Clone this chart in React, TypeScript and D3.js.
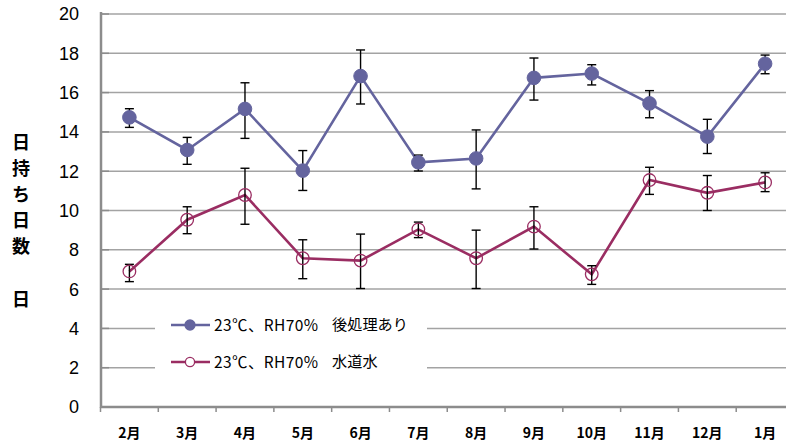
import React from "react";
import * as d3 from "d3";

const months = ["2月", "3月", "4月", "5月", "6月", "7月", "8月", "9月", "10月", "11月", "12月", "1月"];
const treatedValues = [14.74, 13.08, 15.17, 12.03, 16.84, 12.45, 12.65, 16.75, 16.97, 15.45, 13.76, 17.47];
const treatedHigh = [15.18, 13.72, 16.5, 13.05, 18.17, 12.82, 14.1, 17.76, 17.42, 16.1, 14.64, 17.91];
const treatedLow = [14.23, 12.35, 13.67, 11.02, 15.42, 12.01, 11.1, 15.62, 16.39, 14.72, 12.9, 16.96];
const tapValues = [6.9, 9.53, 10.79, 7.57, 7.45, 9.04, 7.57, 9.18, 6.75, 11.55, 10.9, 11.43];
const tapHigh = [7.26, 10.19, 12.15, 8.51, 8.8, 9.41, 9.0, 10.19, 7.19, 12.2, 11.78, 11.92];
const tapLow = [6.38, 8.82, 9.3, 6.53, 6.03, 8.62, 6.03, 8.04, 6.24, 10.82, 10.0, 10.96];
const yTicks = [0, 2, 4, 6, 8, 10, 12, 14, 16, 18, 20];
const seriesConditions = ["23℃、RH70%", "23℃、RH70%"];
const seriesNames = ["後処理あり", "水道水"];
const yTitleChars = ["日", "持", "ち", "日", "数"];
const yUnit = "日";

const W = 786;
const H = 443;
const BLUE = "#64649e";
const RED = "#9a2d62";
const JP = "'Noto Sans CJK JP', 'Noto Sans', sans-serif";

export default function App() {
  const x = d3.scaleBand<string>().domain(months).range([100.5, 794]);
  const y = d3.scaleLinear().domain([0, 20]).range([407, 14]);
  const cx = (m: string) => (x(m) as number) + x.bandwidth() / 2;

  const line = d3
    .line<number>()
    .x((_, i) => cx(months[i]))
    .y((d) => y(d));

  const series = [
    { vals: treatedValues, hi: treatedHigh, lo: treatedLow, color: BLUE, filled: true },
    { vals: tapValues, hi: tapHigh, lo: tapLow, color: RED, filled: false },
  ];

  const legendX0 = 155;
  const legendX1 = 427;

  return (
    <svg
      width={W}
      height={H}
      style={{ position: "absolute", left: 0, top: 0, background: "#fff" }}
    >
      {yTicks.map((t) =>
        t === 0 ? null : (
          <line key={t} x1={101} x2={W} y1={y(t)} y2={y(t)} stroke="#a3a3a3" strokeWidth={1.5} />
        )
      )}
      <rect x={legendX0} y={312} width={legendX1 - legendX0} height={66} fill="#fff" />

      <line x1={101} x2={101} y1={12} y2={408} stroke="#8c8c8c" strokeWidth={2.5} />
      <line x1={100} x2={W} y1={407} y2={407} stroke="#8c8c8c" strokeWidth={2.5} />
      {yTicks.map((t) => (
        <line key={"yt" + t} x1={101} x2={109} y1={y(t)} y2={y(t)} stroke="#8c8c8c" strokeWidth={1.5} />
      ))}
      {months.map((m) => (
        <line
          key={"xt" + m}
          x1={x(m) as number}
          x2={x(m) as number}
          y1={407}
          y2={412}
          stroke="#8c8c8c"
          strokeWidth={1.5}
        />
      ))}
      {yTicks.map((t) => (
        <text
          key={"yl" + t}
          x={79}
          y={y(t)}
          dy="0.36em"
          textAnchor="end"
          fontFamily="'Liberation Sans', Arial, sans-serif"
          fontSize={18}
          fill="#000"
        >
          {t}
        </text>
      ))}
      {months.map((m) => (
        <text
          key={"xl" + m}
          x={cx(m)}
          y={438}
          textAnchor="middle"
          fontFamily={JP}
          fontWeight="bold"
          fontSize={14}
          fill="#000"
        >
          {m}
        </text>
      ))}
      {yTitleChars.map((c, i) => (
        <text
          key={"yc" + i}
          x={21}
          y={143 + i * 25.8}
          dy="0.36em"
          textAnchor="middle"
          fontFamily={JP}
          fontWeight="bold"
          fontSize={18}
          fill="#000"
        >
          {c}
        </text>
      ))}
      <text x={21} y={300} dy="0.36em" textAnchor="middle" fontFamily={JP} fontWeight="bold" fontSize={18}>
        {yUnit}
      </text>

      {series.map((s, si) => (
        <g key={"s" + si}>
          <path d={line(s.vals) as string} fill="none" stroke={s.color} strokeWidth={2.6} />
          {s.vals.map((v, i) => {
            const px = cx(months[i]);
            return (
              <g key={"e" + i} stroke="#000" strokeWidth={1.4}>
                <line x1={px} x2={px} y1={y(s.hi[i])} y2={y(s.lo[i])} />
                <line x1={px - 4.5} x2={px + 4.5} y1={y(s.hi[i])} y2={y(s.hi[i])} />
                <line x1={px - 4.5} x2={px + 4.5} y1={y(s.lo[i])} y2={y(s.lo[i])} />
              </g>
            );
          })}
          {s.vals.map((v, i) => (
            <circle
              key={"m" + i}
              cx={cx(months[i])}
              cy={y(v)}
              r={s.filled ? 6.8 : 6.3}
              fill={s.filled ? s.color : "none"}
              stroke={s.color}
              strokeWidth={s.filled ? 1 : 1.3}
            />
          ))}
        </g>
      ))}

      {series.map((s, si) => {
        const ly = 325 + si * 37;
        return (
          <g key={"lg" + si}>
            <line x1={171} x2={210} y1={ly} y2={ly} stroke={s.color} strokeWidth={2.6} />
            <circle
              cx={190}
              cy={ly}
              r={s.filled ? 5 : 4.6}
              fill={s.filled ? s.color : "#fff"}
              stroke={s.color}
              strokeWidth={1.3}
            />
            <text
              x={214}
              y={ly}
              dy="0.36em"
              fontFamily={JP}
              fontSize={15.5}
              fill="#000"
              textLength={104}
              lengthAdjust="spacing"
            >
              {seriesConditions[si]}
            </text>
            <text x={332} y={ly} dy="0.36em" fontFamily={JP} fontSize={15.2} fill="#000">
              {seriesNames[si]}
            </text>
          </g>
        );
      })}
    </svg>
  );
}
